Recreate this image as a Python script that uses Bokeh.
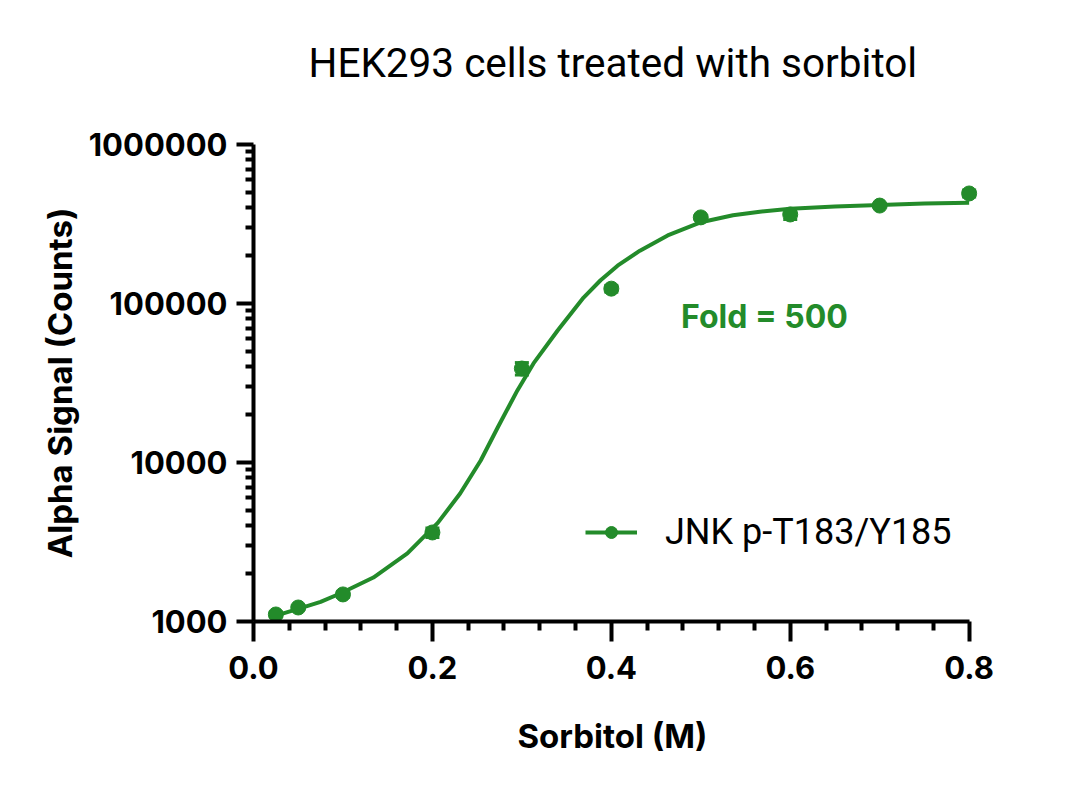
#!/usr/bin/env python3
"""
JNK p-T183/Y185 response of HEK293 cells to sorbitol, log-scale Alpha signal.
"""

from bokeh.plotting import figure
from bokeh.embed import file_html
from bokeh.resources import INLINE
from bokeh.models import (
    ColumnDataSource, Range1d, FixedTicker, PrintfTickFormatter,
    Whisker, TeeHead, Legend, LegendItem, Label, Title
)

sorbitol_m = [0.025, 0.05, 0.1, 0.2, 0.3, 0.4, 0.5, 0.6, 0.7, 0.8]
signal_mean = [1107, 1225, 1480, 3630, 39000, 124000, 348000, 363000, 413000, 492000]
signal_err = [40, 30, 60, 250, 3500, 6000, 10000, 25000, 8000, 25000]

# Fitted curve
fit_x = [0.025, 0.05, 0.075, 0.097, 0.134, 0.172, 0.206, 0.231, 0.254,
         0.273, 0.295, 0.313, 0.340, 0.369, 0.388, 0.407, 0.432,
         0.463, 0.499, 0.536, 0.566, 0.6, 0.65, 0.7, 0.75, 0.8]
fit_y = [1090, 1200, 1330, 1500, 1890, 2680, 4170, 6380, 10300,
         16600, 28400, 42000, 67600, 109000, 140000, 173000, 215000,
         268000, 323000, 359000, 378000, 394000, 407000, 417000, 425000, 430000]

x_ticks = [0.0, 0.2, 0.4, 0.6, 0.8]
y_ticks = [1000, 10000, 100000, 1000000]

series_label = "JNK p-T183/Y185"
fold_text = "Fold = 500"
title_text = "HEK293 cells treated with sorbitol"
x_title = "Sorbitol (M)"
y_title = "Alpha Signal (Counts)"

GREEN = "#238b2a"
FONT = "Inter"
TITLE_FONT = "Roboto"

p = figure(
    width=1064,
    height=791,
    x_range=Range1d(0, 0.825),
    y_range=Range1d(1000, 1000000),
    y_axis_type="log",
    output_backend="svg",
    toolbar_location=None,
    min_border_left=253,
    min_border_right=73,
    min_border_top=144,
    min_border_bottom=170,
)
p.outline_line_color = None
p.grid.visible = False
p.background_fill_color = "white"

# Empty spacer next to the frame, then the chart title further up
spacer = Title(text=" ", text_font_size="10px", standoff=45)
p.add_layout(spacer, "above")
title = Title(
    text=title_text, text_font=TITLE_FONT, text_font_size="40.5px",
    text_font_style="normal", text_color="black", align="left",
    standoff=0, offset=55,
)
p.add_layout(title, "above")

# Axes styling
for ax in (p.xaxis[0], p.yaxis[0]):
    ax.axis_line_width = 4
    ax.axis_line_color = "black"
    ax.major_tick_line_width = 4
    ax.minor_tick_line_width = 4
    ax.major_tick_in = 0
    ax.minor_tick_in = 0
    ax.major_label_text_font = FONT
    ax.major_label_text_font_style = "bold"
    ax.major_label_text_font_size = "31px"
    ax.major_label_text_color = "black"
    ax.axis_label_text_font = FONT
    ax.axis_label_text_font_style = "bold"
    ax.axis_label_text_font_size = "33px"
    ax.axis_label_text_color = "black"

minor_x = [i * 0.04 for i in range(21) if i % 5 != 0]
p.xaxis.ticker = FixedTicker(ticks=x_ticks, minor_ticks=minor_x)
p.xaxis.formatter = PrintfTickFormatter(format="%.1f")
p.xaxis.bounds = (0, 0.8)
p.xaxis.major_tick_out = 20
p.xaxis.minor_tick_out = 9
p.xaxis.major_label_standoff = 14

# x-axis title as a below Title so it can be shifted left like the original
xlab = Title(
    text=x_title, text_font=FONT, text_font_size="33px",
    text_font_style="bold", text_color="black", align="left",
    standoff=64, offset=264,
)
p.add_layout(xlab, "below")

minor_y = [m * 10 ** d for d in range(3, 6) for m in range(2, 10)]
p.yaxis.ticker = FixedTicker(ticks=y_ticks, minor_ticks=minor_y)
p.yaxis.formatter = PrintfTickFormatter(format="%d")
p.yaxis.major_tick_out = 17
p.yaxis.minor_tick_out = 8
p.yaxis.major_label_standoff = 9
p.yaxis.axis_label = y_title
p.yaxis.axis_label_standoff = 6

# Fitted curve
fit_src = ColumnDataSource(dict(x=fit_x, y=fit_y))
curve = p.line("x", "y", source=fit_src, line_color=GREEN, line_width=4,
               line_join="round")

# Points with error bars
upper = [m + e for m, e in zip(signal_mean, signal_err)]
lower = [m - e for m, e in zip(signal_mean, signal_err)]
pts_src = ColumnDataSource(dict(x=sorbitol_m, y=signal_mean, upper=upper, lower=lower))

whisker = Whisker(
    base="x", upper="upper", lower="lower", source=pts_src, dimension="height",
    line_color=GREEN, line_width=3,
    upper_head=TeeHead(size=14, line_color=GREEN, line_width=3),
    lower_head=TeeHead(size=14, line_color=GREEN, line_width=3),
)
p.add_layout(whisker)

points = p.scatter("x", "y", source=pts_src, marker="circle", size=15,
                   fill_color=GREEN, line_color=GREEN)

# Fold annotation
fold = Label(
    x=0.478, y=83000, text=fold_text, text_font=FONT, text_font_style="bold",
    text_font_size="32px", text_color=GREEN, text_baseline="middle",
)
p.add_layout(fold)

# Legend
legend = Legend(
    items=[LegendItem(label=series_label, renderers=[curve, points])],
    location=(332, 68),
    glyph_width=52,
    glyph_height=30,
    label_height=30,
    label_standoff=28,
    padding=0,
    margin=0,
    border_line_color=None,
    background_fill_alpha=0,
    label_text_font=TITLE_FONT,
    label_text_font_size="36px",
    label_text_color="black",
)
p.add_layout(legend)

open("out.html", "w").write(file_html(p, INLINE))
